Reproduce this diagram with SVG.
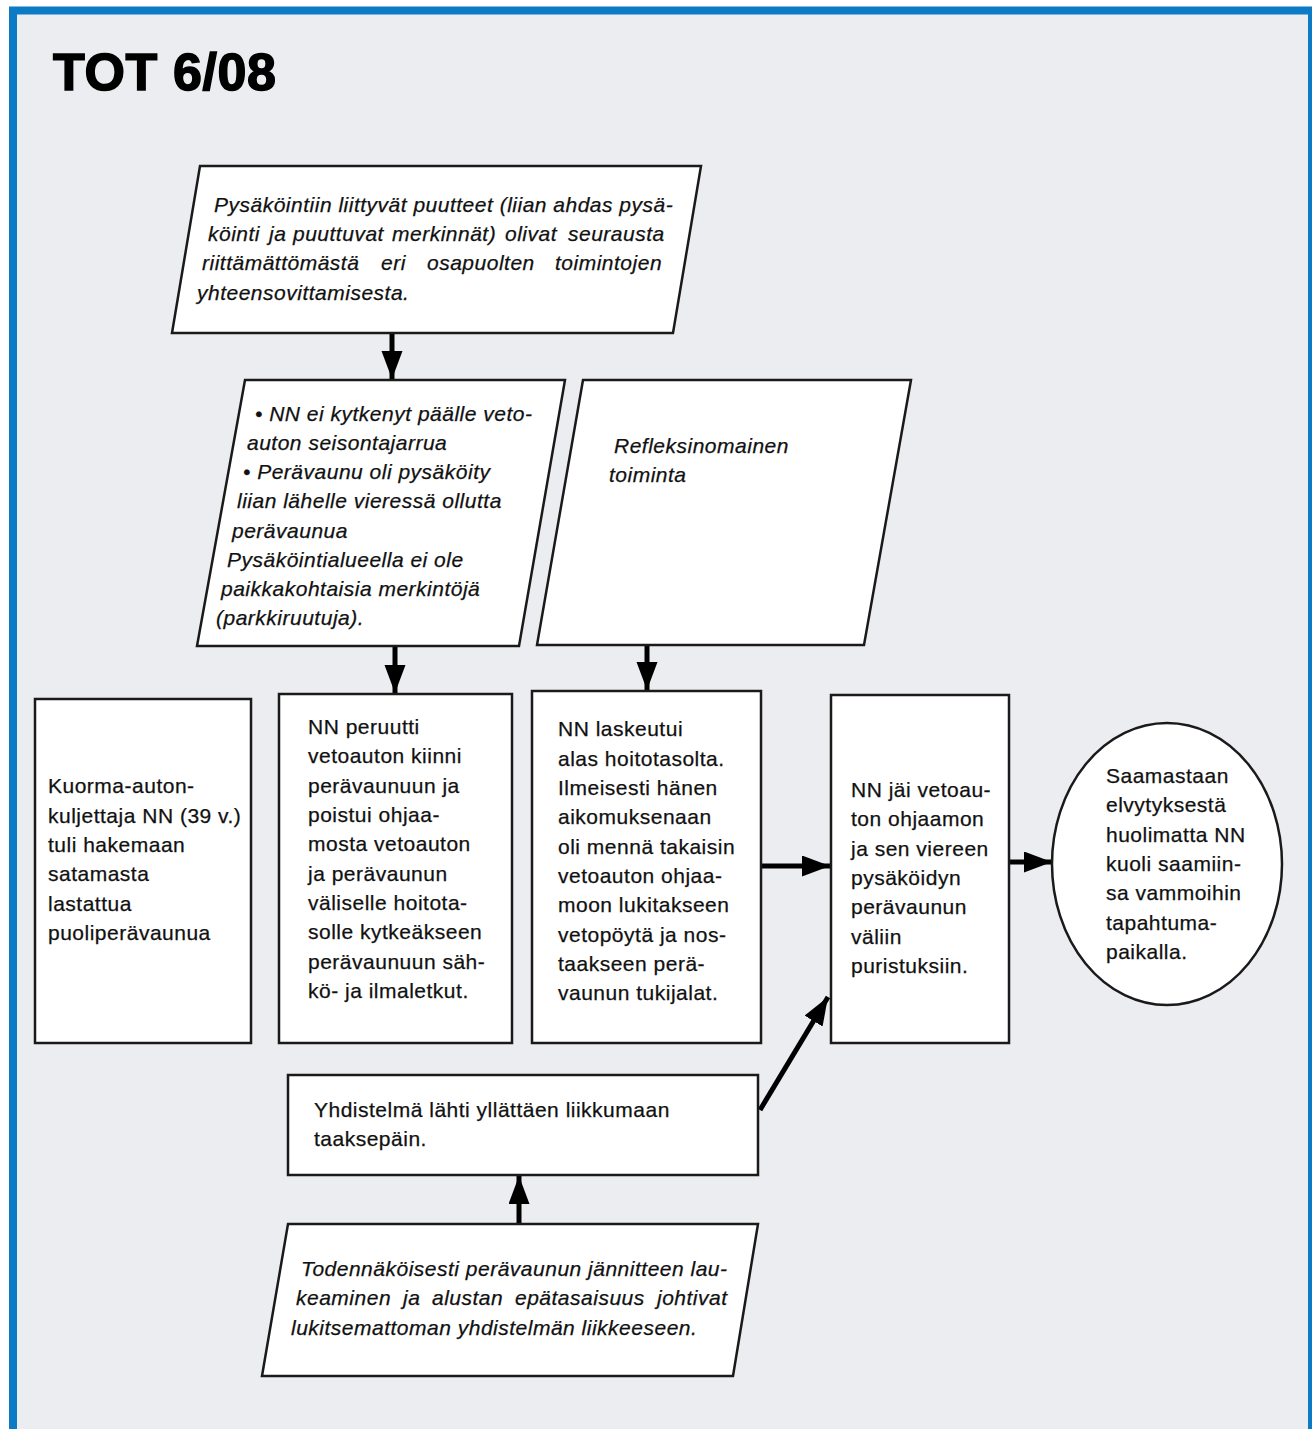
<svg xmlns="http://www.w3.org/2000/svg" width="1312" height="1429" viewBox="0 0 1312 1429">
<style>
.shape{fill:#fff;stroke:#1a1a1a;stroke-width:2.5}
.t{font-family:"Liberation Sans",Arial,sans-serif;font-size:21px;letter-spacing:0.5px;fill:#111;stroke:#111;stroke-width:0.25}
.i{font-style:italic}
.conn{stroke:#000;stroke-width:5;fill:none}
</style>
<defs>
<marker id="ah" markerUnits="userSpaceOnUse" markerWidth="30" markerHeight="22" refX="28" refY="10.5" orient="auto">
<path d="M0,0 L28,10.5 L0,21 z" fill="#000"/>
</marker>
</defs>
<rect x="13" y="10.5" width="1299" height="1430" fill="#ecedf0" stroke="#0a7bc4" stroke-width="8"/>
<text x="53" y="90" font-family="'Liberation Sans',Arial,sans-serif" font-weight="bold" font-size="52" letter-spacing="0.6" stroke="#000" stroke-width="1.5" fill="#000">TOT 6/08</text>

<g id="conns">
<line class="conn" x1="392" y1="333" x2="392" y2="379" marker-end="url(#ah)"/>
<line class="conn" x1="395" y1="646" x2="395" y2="693" marker-end="url(#ah)"/>
<line class="conn" x1="647" y1="645" x2="647" y2="690" marker-end="url(#ah)"/>
<line class="conn" x1="761" y1="866" x2="830" y2="866" marker-end="url(#ah)"/>
<line class="conn" x1="1009" y1="862" x2="1052" y2="862" marker-end="url(#ah)"/>
<line class="conn" x1="760" y1="1110" x2="828" y2="997" marker-end="url(#ah)"/>
<line class="conn" x1="519" y1="1224" x2="519" y2="1176" marker-end="url(#ah)"/>
</g>

<g id="n_top">
<polygon class="shape" points="200,166 701,166 673,333 172,333"/>
<text class="t i" x="214" y="212">Pysäköintiin liittyvät puutteet (liian ahdas pysä-</text>
<text class="t i" y="241"><tspan x="208">köinti</tspan><tspan x="269">ja</tspan><tspan x="293">puuttuvat</tspan><tspan x="392">merkinnät)</tspan><tspan x="505">olivat</tspan><tspan x="568">seurausta</tspan></text>
<text class="t i" y="270"><tspan x="202">riittämättömästä</tspan><tspan x="381">eri</tspan><tspan x="427">osapuolten</tspan><tspan x="555">toimintojen</tspan></text>
<text class="t i" x="197" y="300">yhteensovittamisesta.</text>
</g>

<g id="n_left_par">
<polygon class="shape" points="245,380 565,380 519,646 197,646"/>
<text class="t i" x="255" y="421">• NN ei kytkenyt päälle veto-</text>
<text class="t i" x="247" y="450">auton seisontajarrua</text>
<text class="t i" x="243" y="479">• Perävaunu oli pysäköity</text>
<text class="t i" x="237" y="508">liian lähelle vieressä ollutta</text>
<text class="t i" x="232" y="538">perävaunua</text>
<text class="t i" x="227" y="567">Pysäköintialueella ei ole</text>
<text class="t i" x="221" y="596">paikkakohtaisia merkintöjä</text>
<text class="t i" x="216" y="625">(parkkiruutuja).</text>
</g>

<g id="n_right_par">
<polygon class="shape" points="583,380 911,380 864,645 537,645"/>
<text class="t i" x="614" y="453">Refleksinomainen</text>
<text class="t i" x="609" y="482">toiminta</text>
</g>

<g id="n_box1">
<rect class="shape" x="35" y="699" width="216" height="344"/>
<text class="t" x="48" y="793">Kuorma-auton-</text>
<text class="t" x="48" y="823">kuljettaja NN (39 v.)</text>
<text class="t" x="48" y="852">tuli hakemaan</text>
<text class="t" x="48" y="881">satamasta</text>
<text class="t" x="48" y="911">lastattua</text>
<text class="t" x="48" y="940">puoliperävaunua</text>
</g>

<g id="n_box2">
<rect class="shape" x="279" y="694" width="233" height="349"/>
<text class="t" x="308" y="734">NN peruutti</text>
<text class="t" x="308" y="763">vetoauton kiinni</text>
<text class="t" x="308" y="793">perävaunuun ja</text>
<text class="t" x="308" y="822">poistui ohjaa-</text>
<text class="t" x="308" y="851">mosta vetoauton</text>
<text class="t" x="308" y="881">ja perävaunun</text>
<text class="t" x="308" y="910">väliselle hoitota-</text>
<text class="t" x="308" y="939">solle kytkeäkseen</text>
<text class="t" x="308" y="969">perävaunuun säh-</text>
<text class="t" x="308" y="998">kö- ja ilmaletkut.</text>
</g>

<g id="n_box3">
<rect class="shape" x="532" y="691" width="229" height="352"/>
<text class="t" x="558" y="736">NN laskeutui</text>
<text class="t" x="558" y="766">alas hoitotasolta.</text>
<text class="t" x="558" y="795">Ilmeisesti hänen</text>
<text class="t" x="558" y="824">aikomuksenaan</text>
<text class="t" x="558" y="854">oli mennä takaisin</text>
<text class="t" x="558" y="883">vetoauton ohjaa-</text>
<text class="t" x="558" y="912">moon lukitakseen</text>
<text class="t" x="558" y="942">vetopöytä ja nos-</text>
<text class="t" x="558" y="971">taakseen perä-</text>
<text class="t" x="558" y="1000">vaunun tukijalat.</text>
</g>

<g id="n_box4">
<rect class="shape" x="831" y="695" width="178" height="348"/>
<text class="t" x="851" y="797">NN jäi vetoau-</text>
<text class="t" x="851" y="826">ton ohjaamon</text>
<text class="t" x="851" y="856">ja sen viereen</text>
<text class="t" x="851" y="885">pysäköidyn</text>
<text class="t" x="851" y="914">perävaunun</text>
<text class="t" x="851" y="944">väliin</text>
<text class="t" x="851" y="973">puristuksiin.</text>
</g>

<g id="n_end">
<ellipse class="shape" cx="1167" cy="864" rx="115" ry="141"/>
<text class="t" x="1106" y="783">Saamastaan</text>
<text class="t" x="1106" y="812">elvytyksestä</text>
<text class="t" x="1106" y="842">huolimatta NN</text>
<text class="t" x="1106" y="871">kuoli saamiin-</text>
<text class="t" x="1106" y="900">sa vammoihin</text>
<text class="t" x="1106" y="930">tapahtuma-</text>
<text class="t" x="1106" y="959">paikalla.</text>
</g>

<g id="n_box5">
<rect class="shape" x="288" y="1075" width="470" height="100"/>
<text class="t" x="314" y="1117">Yhdistelmä lähti yllättäen liikkumaan</text>
<text class="t" x="314" y="1146">taaksepäin.</text>
</g>

<g id="n_bottom">
<polygon class="shape" points="288,1224 758,1224 733,1376 262,1376"/>
<text class="t i" x="301" y="1276">Todennäköisesti perävaunun jännitteen lau-</text>
<text class="t i" y="1305"><tspan x="296">keaminen</tspan><tspan x="403">ja</tspan><tspan x="432">alustan</tspan><tspan x="515">epätasaisuus</tspan><tspan x="657">johtivat</tspan></text>
<text class="t i" x="291" y="1335">lukitsemattoman yhdistelmän liikkeeseen.</text>
</g>
</svg>
